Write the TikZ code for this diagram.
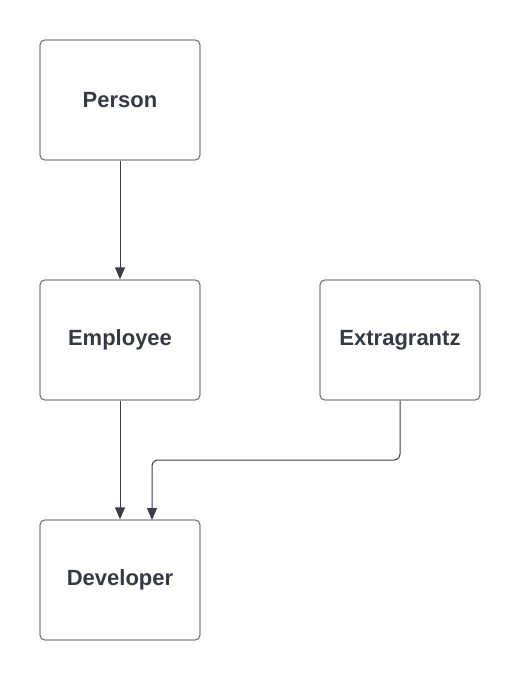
\documentclass[tikz,border=0pt]{standalone}
\usepackage{fontspec}
\setmainfont{Liberation Sans}
\usetikzlibrary{arrows.meta}
\definecolor{txt}{HTML}{333A44}
\definecolor{bord}{HTML}{7F838A}
\definecolor{arr}{HTML}{3A3F47}
\begin{document}
\begin{tikzpicture}[x=1pt,y=-1pt,
  box/.style={draw=bord,line width=1.3pt,rounded corners=5pt,minimum width=160pt,minimum height=120pt,inner sep=0pt,font=\fontsize{22pt}{26pt}\selectfont\bfseries,text=txt},
  conn/.style={draw=arr,line width=1pt,-{Triangle[length=12pt,width=10pt]}}]
\useasboundingbox[fill=white] (0,0) rectangle (520,680);
\node[box] (person) at (120,100) {Person};
\node[box] (employee) at (120,340) {Employee};
\node[box] (extra) at (400,340) {Extragrantz};
\node[box] (dev) at (120,580) {Developer};
\coordinate (d2) at (152,520);
\draw[conn] (person) -- (employee);
\draw[conn] (employee) -- (dev);
\draw[conn,rounded corners=6pt] (extra.south) |- (152,460) -- (d2);
\end{tikzpicture}
\end{document}
